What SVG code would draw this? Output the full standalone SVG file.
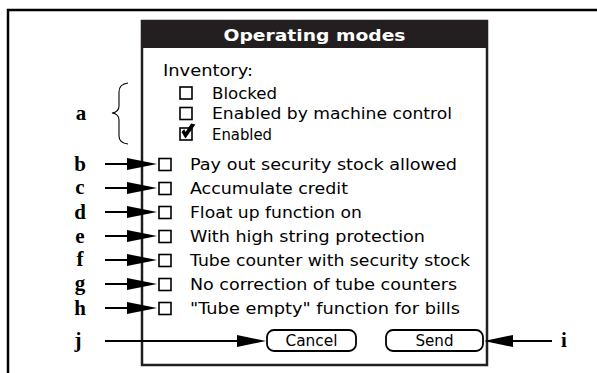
<svg xmlns="http://www.w3.org/2000/svg" width="597" height="373" viewBox="0 0 597 373">
<style>
.t{font-family:"DejaVu Sans",sans-serif;font-size:16px;fill:#000}
.lbl{font-family:"Liberation Serif",serif;font-size:21px;font-weight:bold;fill:#000;text-anchor:middle}
.box{fill:#fff;stroke:#000;stroke-width:1.6}
.ln{stroke:#000;stroke-width:2;fill:none}
.hd{fill:#000}
.btn{fill:#fff;stroke:#000;stroke-width:1.8}
</style>
<rect x="0" y="0" width="597" height="373" fill="#fff"/>
<rect x="8" y="10" width="620" height="400" fill="none" stroke="#000" stroke-width="2.5"/>
<g id="dialog">
<rect x="142" y="21" width="345" height="344" fill="#fff" stroke="#231f20" stroke-width="2.5"/>
<rect x="141" y="21" width="347" height="27" fill="#231f20"/>
<text x="314.5" y="40.5" font-family="DejaVu Sans,sans-serif" font-size="16" font-weight="bold" fill="#fff" text-anchor="middle" textLength="182" lengthAdjust="spacingAndGlyphs">Operating modes</text>
</g>
<g id="inventory">
<text class="t" x="163" y="76" textLength="90" lengthAdjust="spacingAndGlyphs">Inventory:</text>
<rect class="box" x="180" y="87" width="12" height="12"/>
<text class="t" x="212" y="98.5" textLength="65" lengthAdjust="spacingAndGlyphs">Blocked</text>
<rect class="box" x="180" y="107.5" width="12" height="12"/>
<text class="t" x="212" y="119" textLength="240" lengthAdjust="spacingAndGlyphs">Enabled by machine control</text>
<rect class="box" x="180" y="128" width="12" height="12"/>
<path d="M182.5 132 L185.5 137 L194 125 L191.5 124.5 L185.5 133.5 L184 130.5 Z" fill="#000" stroke="#000" stroke-width="1.6"/>
<text class="t" x="212" y="139.5" textLength="60" lengthAdjust="spacingAndGlyphs">Enabled</text>
</g>
<g id="node-a">
<text class="lbl" x="81" y="120">a</text>
<path d="M128 83 Q119 84 119 92 L119 106 Q119 112 112 113 Q119 114 119 120 L119 136 Q119 143 128 144" fill="none" stroke="#000" stroke-width="1.1"/>
</g>
<g id="node-b"><rect class="box" x="159" y="158.5" width="12" height="12"/><text class="t" x="190" y="170" textLength="267" lengthAdjust="spacingAndGlyphs">Pay out security stock allowed</text><text class="lbl" x="80" y="171">b</text></g>
<g id="node-c"><rect class="box" x="159" y="182.5" width="12" height="12"/><text class="t" x="190" y="194" textLength="158" lengthAdjust="spacingAndGlyphs">Accumulate credit</text><text class="lbl" x="80" y="194">c</text></g>
<g id="node-d"><rect class="box" x="159" y="206.5" width="12" height="12"/><text class="t" x="190" y="218" textLength="172" lengthAdjust="spacingAndGlyphs">Float up function on</text><text class="lbl" x="80" y="219">d</text></g>
<g id="node-e"><rect class="box" x="159" y="230.5" width="12" height="12"/><text class="t" x="190" y="242" textLength="235" lengthAdjust="spacingAndGlyphs">With high string protection</text><text class="lbl" x="80" y="243">e</text></g>
<g id="node-f"><rect class="box" x="159" y="254.5" width="12" height="12"/><text class="t" x="190" y="266" textLength="280" lengthAdjust="spacingAndGlyphs">Tube counter with security stock</text><text class="lbl" x="80" y="266">f</text></g>
<g id="node-g"><rect class="box" x="159" y="278.5" width="12" height="12"/><text class="t" x="190" y="290" textLength="267" lengthAdjust="spacingAndGlyphs">No correction of tube counters</text><text class="lbl" x="80" y="290">g</text></g>
<g id="node-h"><rect class="box" x="159" y="302.5" width="12" height="12"/><text class="t" x="190" y="314" textLength="270" lengthAdjust="spacingAndGlyphs">"Tube empty" function for bills</text><text class="lbl" x="80" y="315">h</text></g>
<g id="node-j"><rect class="btn" x="267" y="330" width="89" height="21" rx="7"/><text class="t" x="311.5" y="346" text-anchor="middle" textLength="52" lengthAdjust="spacingAndGlyphs">Cancel</text><text class="lbl" x="78" y="347">j</text></g>
<g id="node-i"><rect class="btn" x="386" y="330" width="97" height="21" rx="7"/><text class="t" x="434.5" y="346" text-anchor="middle" textLength="38" lengthAdjust="spacingAndGlyphs">Send</text><text class="lbl" x="564" y="347">i</text></g>
<g id="connectors">
<line class="ln" x1="105" y1="164" x2="130" y2="164"/><polygon class="hd" points="127,158 157,164 127,170"/>
<line class="ln" x1="105" y1="188" x2="130" y2="188"/><polygon class="hd" points="127,182 157,188 127,194"/>
<line class="ln" x1="105" y1="212" x2="130" y2="212"/><polygon class="hd" points="127,206 157,212 127,218"/>
<line class="ln" x1="105" y1="236" x2="130" y2="236"/><polygon class="hd" points="127,230 157,236 127,242"/>
<line class="ln" x1="105" y1="260" x2="130" y2="260"/><polygon class="hd" points="127,254 157,260 127,266"/>
<line class="ln" x1="105" y1="284" x2="130" y2="284"/><polygon class="hd" points="127,278 157,284 127,290"/>
<line class="ln" x1="105" y1="308" x2="130" y2="308"/><polygon class="hd" points="127,302 157,308 127,314"/>
<line class="ln" x1="105" y1="341" x2="240" y2="341"/><polygon class="hd" points="237,335 266,341 237,347"/>
<line class="ln" x1="510" y1="341" x2="552" y2="341"/><polygon class="hd" points="513,335 484,341 513,347"/>
</g>
</svg>
